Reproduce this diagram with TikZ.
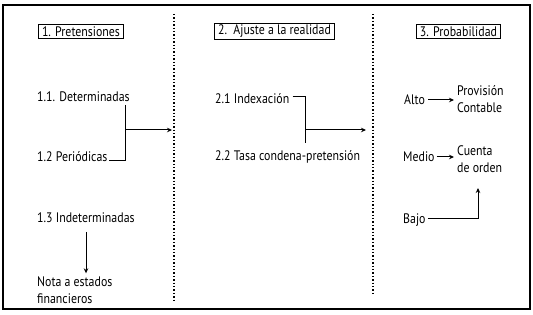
\documentclass[tikz,border=0pt]{standalone}
\usepackage{fontspec}
\setmainfont{PT Sans}[FakeStretch=0.86]
\usetikzlibrary{arrows.meta}
\begin{document}
\begin{tikzpicture}[x=1pt,y=-1pt,
  lbl/.style={anchor=west,inner sep=0pt,font=\fontsize{13.8}{15}\selectfont},
  hdr/.style={draw,line width=1pt,inner xsep=3.5pt,inner ysep=2pt,font=\fontsize{13.8}{15}\selectfont},
  two/.style={anchor=west,inner sep=0pt,align=left,font=\fontsize{13.8}{17}\selectfont},
  con/.style={line width=1pt},
  arr/.style={line width=1pt,-{Stealth[length=5pt,width=4.5pt]}},
  sep/.style={line width=1.4pt,dotted}]
\useasboundingbox (0,0) rectangle (533,315);
\draw[line width=1.6pt] (3,5) rectangle (530,309);
% separators
\coordinate (s1t) at (174,14); \coordinate (s1b) at (174,300);
\coordinate (s2t) at (373,14); \coordinate (s2b) at (373,293);
\draw[sep] (s1t) -- (s1b);
\draw[sep] (s2t) -- (s2b);
% headers
\node[hdr] (h1) at (81,31.5) {1. Pretensiones};
\node[hdr] (h2) at (274.5,31.5) {2.\ \ Ajuste a la realidad};
\node[hdr] (h3) at (458.5,31.5) {3. Probabilidad};
% column 1
\node[lbl] (d11) at (37,97) {1.1. Determinadas};
\node[lbl] (p12) at (37,157) {1.2 Periódicas};
\node[lbl] (i13) at (37,218) {1.3 Indeterminadas};
\node[two] (nota) at (37,290) {Nota a estados\\financieros};
\coordinate (b1t) at (125,105);
\coordinate (b1b) at (125,161);
\coordinate (j1) at (125,130);
\coordinate (e1) at (172,130);
\draw[con] (b1t) -- (b1b) -- ([xshift=1pt]p12.east |- b1b);
\draw[arr] (j1) -- (e1);
\coordinate (a13s) at (86,232);
\draw[arr] (a13s) -- ([yshift=3pt]nota.north -| a13s);
% column 2
\node[lbl] (i21) at (215,99) {2.1 Indexación};
\node[lbl] (t22) at (215,157) {2.2 Tasa condena-pretensión};
\coordinate (b2t) at (305,97);
\coordinate (b2b) at (305,143);
\coordinate (j2) at (305,130);
\coordinate (e2) at (366,130);
\draw[con] ([xshift=3pt]i21.east |- b2t) -- (b2t) -- (b2b);
\draw[arr] (j2) -- (e2);
% column 3
\node[lbl] (alto) at (404,100) {Alto};
\node[two] (prov) at (457,99) {Provisión\\Contable};
\node[lbl] (medio) at (403,157) {Medio};
\node[two] (cuen) at (457,159) {Cuenta\\de orden};
\node[lbl] (bajo) at (403,220) {Bajo};
\draw[arr] ([xshift=3pt]alto.east) -- ([xshift=-3pt]prov.west |- alto.east);
\draw[arr] ([xshift=2pt]medio.east) -- ([xshift=-3pt]cuen.west |- medio.east);
\coordinate (bc) at (478,219);
\coordinate (bt) at (478,188);
\draw[arr] ([xshift=2pt]bajo.east |- bc) -- (bc) -- (bt);
\end{tikzpicture}
\end{document}
